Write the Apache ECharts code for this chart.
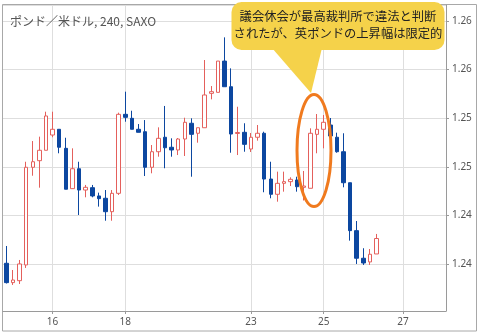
<!DOCTYPE html>
<html>
<head>
<meta charset="utf-8">
<script src="https://cdn.jsdelivr.net/npm/echarts@6/dist/echarts.min.js"></script>
<style>
html,body{margin:0;padding:0;background:#fff;}
#chart{width:478px;height:333px;}
</style>
</head>
<body>
<div id="chart"></div>
<script>
// GBP/USD 4h candles: [open, close, low, high]
const candles = [
  [1.24007,1.23808,1.23799,1.24185],
  [1.23808,1.23835,1.23784,1.23938],
  [1.23828,1.24000,1.23794,1.24041],
  [1.23990,1.24995,1.23959,1.25052],
  [1.24995,1.25052,1.24908,1.25265],
  [1.25063,1.25170,1.24785,1.25310],
  [1.25170,1.25523,1.25170,1.25567],
  [1.25327,1.25386,1.25304,1.25567],
  [1.25386,1.25201,1.25139,1.25386],
  [1.25190,1.24769,1.24769,1.25299],
  [1.24775,1.24980,1.24772,1.25190],
  [1.24980,1.24761,1.24504,1.25052],
  [1.24761,1.24789,1.24686,1.24813],
  [1.24785,1.24700,1.24686,1.24813],
  [1.24700,1.24672,1.24590,1.24734],
  [1.24676,1.24538,1.24445,1.24761],
  [1.24538,1.24727,1.24445,1.24761],
  [1.24727,1.25540,1.24710,1.25557],
  [1.25540,1.25509,1.25464,1.25773],
  [1.25499,1.25386,1.25386,1.25577],
  [1.25386,1.25355,1.25355,1.25440],
  [1.25361,1.24995,1.24905,1.25481],
  [1.24995,1.25155,1.24933,1.25224],
  [1.25155,1.25293,1.25104,1.25406],
  [1.25304,1.25196,1.24985,1.25626],
  [1.25201,1.25173,1.25104,1.25293],
  [1.25173,1.25286,1.25121,1.25296],
  [1.25286,1.25458,1.25111,1.25505],
  [1.25448,1.25334,1.24898,1.25499],
  [1.25345,1.25402,1.25248,1.25402],
  [1.25402,1.25739,1.25402,1.26099],
  [1.25756,1.25773,1.25694,1.25831],
  [1.25766,1.26088,1.25766,1.26088],
  [1.26088,1.25824,1.25824,1.26332],
  [1.25824,1.25337,1.25145,1.26013],
  [1.25343,1.25353,1.25121,1.25618],
  [1.25355,1.25231,1.25155,1.25448],
  [1.25183,1.25304,1.25152,1.25348],
  [1.25304,1.25345,1.25269,1.25430],
  [1.25345,1.24874,1.24738,1.25361],
  [1.24874,1.24717,1.24676,1.25052],
  [1.24717,1.24830,1.24641,1.24950],
  [1.24830,1.24847,1.24744,1.24950],
  [1.24847,1.24871,1.24802,1.24892],
  [1.24864,1.24795,1.24744,1.24898],
  [1.24789,1.24802,1.24653,1.24957],
  [1.24779,1.25345,1.24779,1.25396],
  [1.25334,1.25386,1.25139,1.25543],
  [1.25386,1.25458,1.25190,1.25533],
  [1.25430,1.25317,1.25307,1.25502],
  [1.25304,1.25155,1.25145,1.25351],
  [1.25155,1.24836,1.24789,1.25345],
  [1.24836,1.24343,1.24240,1.24836],
  [1.24343,1.24059,1.24000,1.24442],
  [1.24059,1.24010,1.23990,1.24162],
  [1.24021,1.24100,1.23990,1.24154],
  [1.24103,1.24262,1.24103,1.24309]
];
// total 4h slots shown on the time axis (data + empty future slots)
const slotCount = 67;
// day tick labels and the slot index where each day begins
const dayLabels = ['16', '18', '23', '25', '27'];
const dayIndex  = [7, 18, 37, 48, 60];
const yMin = 1.23516, yMax = 1.26665, yStep = 0.005;
const titleText = 'ポンド／米ドル, 240, SAXO';
const noteLines = ['議会休会が最高裁判所で違法と判断', 'されたが、英ポンドの上昇幅は限定的'];

const categories = Array.from({length: slotCount}, (_, i) => 'k' + i);
const labelMap = {};
dayIndex.forEach((idx, k) => { labelMap[idx] = dayLabels[k]; });
const isDay = (i) => labelMap[i] !== undefined;

const chart = echarts.init(document.getElementById('chart'), null, {renderer: 'canvas'});
const axisFont = 'Noto Sans';
chart.setOption({
  animation: false,
  backgroundColor: '#fff',
  grid: {left: 3, top: 5, right: 32, bottom: 22, containLabel: false},
  xAxis: {
    type: 'category',
    data: categories,
    boundaryGap: true,
    axisLine: {show: true, lineStyle: {color: '#9a9a9a', width: 1}},
    axisTick: {show: true, alignWithLabel: true, interval: (i) => isDay(i), length: 3, lineStyle: {color: '#9a9a9a'}},
    axisLabel: {
      interval: (i) => isDay(i),
      formatter: (v, i) => labelMap[i] || '',
      color: '#555', fontSize: 10, fontFamily: axisFont, margin: 6
    },
    splitLine: {show: false}
  },
  yAxis: {
    type: 'value',
    position: 'right',
    scale: true,
    min: yMin, max: yMax,
    minInterval: yStep, maxInterval: yStep,
    splitNumber: 6,
    axisLine: {show: true, lineStyle: {color: '#9a9a9a', width: 1}},
    axisTick: {show: true, length: 3, lineStyle: {color: '#9a9a9a'}},
    axisLabel: {
      showMinLabel: false, showMaxLabel: false,
      formatter: (v) => (Math.floor(v * 100 + 1e-6) / 100).toFixed(2),
      color: '#555', fontSize: 10, fontFamily: axisFont, margin: 6
    },
    splitLine: {show: true, lineStyle: {color: '#dedede', width: 1}}
  },
  series: [{
    type: 'candlestick',
    data: candles,
    barWidth: 4,
    z: 2,
    itemStyle: {
      color: '#ffffff',
      color0: '#0c47a0',
      borderColor: '#e4605c',
      borderColor0: '#0c47a0',
      borderWidth: 1
    },
    markLine: {
      silent: true,
      z: 1,
      symbol: ['none', 'none'],
      label: {show: false},
      lineStyle: {color: '#dedede', type: 'solid', width: 1},
      data: dayIndex.map((i) => ({xAxis: i}))
    }
  }],
  graphic: [
    {type: 'rect', z: 0, silent: true,
     shape: {x: 2.5, y: 4.5, width: 474, height: 326.5},
     style: {fill: 'none', stroke: '#a8a8a8', lineWidth: 1}},
    {type: 'text', z: 10, x: 10, y: 21,
     style: {text: titleText, fill: '#555', font: '12px "Noto Sans CJK JP"', align: 'left', verticalAlign: 'middle'}},
    {type: 'ellipse', z: 10, silent: true,
     shape: {cx: 314, cy: 150.5, rx: 17, ry: 56},
     style: {fill: 'none', stroke: '#f07a1e', lineWidth: 3}},
    {type: 'polygon', z: 11, silent: true,
     shape: {points: [[272, 48], [322, 48], [311, 93]]},
     style: {fill: '#f5d24a'}},
    {type: 'rect', z: 11, silent: true,
     shape: {x: 231.5, y: 2, width: 213, height: 48, r: 10},
     style: {fill: '#f5d24a'}},
    {type: 'text', z: 12, x: 338, y: 16,
     style: {text: noteLines[0], fill: '#222', font: '12.3px "Noto Sans CJK JP"', align: 'center', verticalAlign: 'middle'}},
    {type: 'text', z: 12, x: 338, y: 33,
     style: {text: noteLines[1], fill: '#222', font: '12.3px "Noto Sans CJK JP"', align: 'center', verticalAlign: 'middle'}}
  ]
});
</script>
</body>
</html>
